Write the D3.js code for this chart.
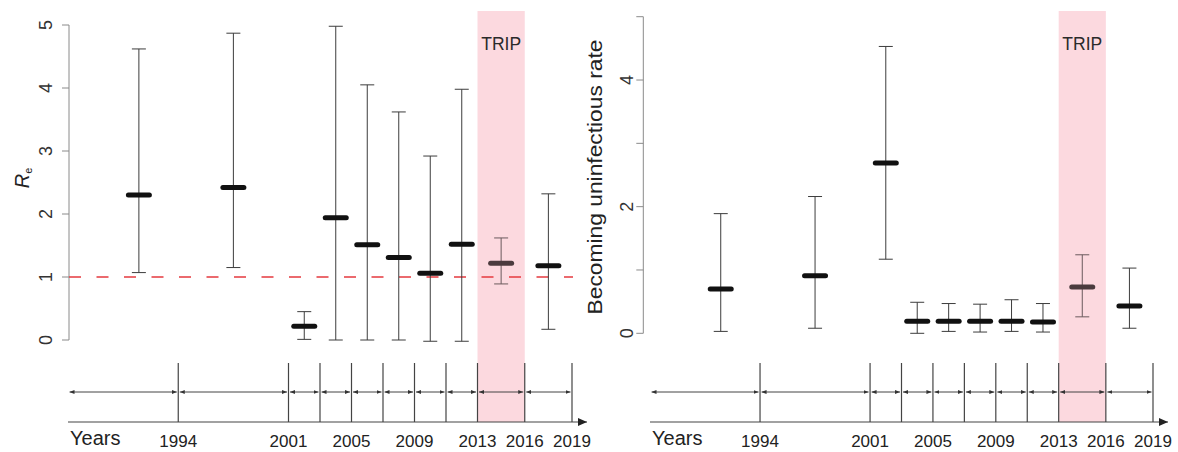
<!DOCTYPE html>
<html>
<head>
<meta charset="utf-8">
<script src="https://cdn.jsdelivr.net/npm/d3@7"></script>
<style>
  body { margin: 0; background: #fff; }
  svg text { font-family: "Liberation Sans", Arial, Helvetica, sans-serif; }
</style>
</head>
<body>
<div id="chart"></div>
<script>
// period midpoints where the estimates sit
var periodMid = [1991.5, 1997.5, 2002, 2004, 2006, 2008, 2010, 2012, 2014.5, 2017.5];
// left panel: effective reproduction number
var reMid = [2.30, 2.42, 0.22, 1.94, 1.51, 1.31, 1.06, 1.52, 1.22, 1.18];
var reLo  = [1.07, 1.15, 0.01, 0.00, 0.00, 0.00, -0.02, -0.02, 0.89, 0.17];
var reHi  = [4.62, 4.87, 0.45, 4.98, 4.05, 3.62, 2.92, 3.98, 1.62, 2.32];
// right panel: becoming uninfectious rate
var gMid = [0.70, 0.91, 2.69, 0.19, 0.19, 0.19, 0.19, 0.18, 0.73, 0.43];
var gLo  = [0.03, 0.08, 1.17, 0.00, 0.03, 0.02, 0.03, 0.02, 0.26, 0.08];
var gHi  = [1.89, 2.16, 4.53, 0.49, 0.47, 0.46, 0.53, 0.47, 1.24, 1.03];
// timeline
var boundaries = [1987, 1994, 2001, 2003, 2005, 2007, 2009, 2011, 2013, 2016, 2019];
var yearLabels = [1994, 2001, 2005, 2009, 2013, 2016, 2019];
var tripPeriod = [2013, 2016];
var tripIndex = 8;

var svg = d3.select('#chart')
  .append('svg')
  .attr('width', 1178)
  .attr('height', 452);

var defs = svg.append('defs');
defs.append('marker')
  .attr('id', 'ah')
  .attr('viewBox', '0 0 10 10')
  .attr('refX', 10)
  .attr('refY', 5)
  .attr('markerWidth', 5)
  .attr('markerHeight', 5)
  .attr('markerUnits', 'userSpaceOnUse')
  .attr('orient', 'auto-start-reverse')
  .append('path')
  .attr('d', 'M0,1 L10,5 L0,9 Z')
  .attr('fill', '#333');

function drawPanel(p) {
  var x = d3.scaleLinear().domain([1987, 2019]).range(p.xRange);
  var y = d3.scaleLinear().domain([0, 5]).range(p.yRange);
  var g = svg.append('g');

  // TRIP band
  g.append('rect')
    .attr('x', x(tripPeriod[0]))
    .attr('y', 11)
    .attr('width', x(tripPeriod[1]) - x(tripPeriod[0]))
    .attr('height', 422 - 11)
    .attr('fill', '#fcd9df');
  g.append('text')
    .attr('x', (x(tripPeriod[0]) + x(tripPeriod[1])) / 2)
    .attr('y', 50)
    .attr('text-anchor', 'middle')
    .style('font-size', '17.5px')
    .attr('fill', '#2a2a2a')
    .text('TRIP');

  // y axis, R style
  var ax = p.axisX;
  g.append('line')
    .attr('x1', ax).attr('x2', ax)
    .attr('y1', y(0)).attr('y2', y(5))
    .attr('stroke', '#8a8a8a');
  var ticks = d3.range(0, 6);
  g.selectAll('.tick').data(ticks).enter().append('line')
    .attr('x1', ax - 7).attr('x2', ax)
    .attr('y1', function(d) { return y(d); })
    .attr('y2', function(d) { return y(d); })
    .attr('stroke', '#8a8a8a');
  g.selectAll('.tlab').data(ticks.filter(p.labelFilter)).enter().append('text')
    .attr('transform', function(d) {
      return 'translate(' + (ax - p.labelOff) + ',' + y(d) + ') rotate(-90)';
    })
    .attr('text-anchor', 'middle')
    .attr('dy', '0.35em')
    .style('font-size', '18px')
    .attr('fill', '#333')
    .text(function(d) { return d; });

  if (p.refLine != null) {
    g.append('line')
      .attr('x1', ax).attr('x2', x(2019) + 1)
      .attr('y1', y(p.refLine)).attr('y2', y(p.refLine))
      .attr('stroke', '#e53a3f')
      .attr('stroke-width', 1.6)
      .attr('stroke-dasharray', '12,15.5');
  }

  // error bars
  var idx = d3.range(periodMid.length);
  var whiskerCol = '#3c3c3c';
  g.selectAll('.wk').data(idx).enter().append('line')
    .attr('x1', function(i) { return x(periodMid[i]); })
    .attr('x2', function(i) { return x(periodMid[i]); })
    .attr('y1', function(i) { return y(p.lo[i]); })
    .attr('y2', function(i) { return y(p.hi[i]); })
    .attr('stroke', function(i) { return i == tripIndex ? '#6a5a5d' : whiskerCol; });
  [p.lo, p.hi].forEach(function(arr) {
    g.selectAll(null).data(idx).enter().append('line')
      .attr('x1', function(i) { return x(periodMid[i]) - 7; })
      .attr('x2', function(i) { return x(periodMid[i]) + 7; })
      .attr('y1', function(i) { return y(arr[i]); })
      .attr('y2', function(i) { return y(arr[i]); })
      .attr('stroke', function(i) { return i == tripIndex ? '#6a5a5d' : whiskerCol; });
  });
  g.selectAll('.mid').data(idx).enter().append('line')
    .attr('x1', function(i) { return x(periodMid[i]) - 10.5; })
    .attr('x2', function(i) { return x(periodMid[i]) + 10.5; })
    .attr('y1', function(i) { return y(p.mid[i]); })
    .attr('y2', function(i) { return y(p.mid[i]); })
    .attr('stroke', function(i) { return i == tripIndex ? '#4b3b3e' : '#111'; })
    .attr('stroke-width', 5)
    .attr('stroke-linecap', 'round');

  // timeline
  var axisY = 422;
  g.append('line')
    .attr('x1', x(1987)).attr('x2', x(2019) + 15)
    .attr('y1', axisY).attr('y2', axisY)
    .attr('stroke', '#444')
    .attr('stroke-width', 1.2);
  g.append('path')
    .attr('d', 'M' + (x(2019) + 15) + ',' + axisY + ' l-9,-4 l0,8 Z')
    .attr('fill', '#222');
  g.selectAll('.vl').data(boundaries.slice(1)).enter().append('line')
    .attr('x1', function(d) { return x(d); })
    .attr('x2', function(d) { return x(d); })
    .attr('y1', 363).attr('y2', axisY)
    .attr('stroke', '#444')
    .attr('stroke-width', 1.2);
  g.selectAll('.arr').data(d3.range(boundaries.length - 1)).enter().append('line')
    .attr('x1', function(i) { return x(boundaries[i]) + 1.5; })
    .attr('x2', function(i) { return x(boundaries[i + 1]) - 1.5; })
    .attr('y1', 392).attr('y2', 392)
    .attr('stroke', '#444')
    .attr('marker-start', 'url(#ah)')
    .attr('marker-end', 'url(#ah)');
  g.selectAll('.yl').data(yearLabels).enter().append('text')
    .attr('x', function(d) { return x(d); })
    .attr('y', 447)
    .attr('text-anchor', 'middle')
    .style('font-size', '17px')
    .attr('fill', '#222')
    .text(function(d) { return d; });
  g.append('text')
    .attr('x', x(1987) + 2)
    .attr('y', 445)
    .style('font-size', '20px')
    .attr('fill', '#222')
    .text('Years');

  return g;
}

var left = drawPanel({
  xRange: [68, 572], yRange: [340, 25], axisX: 69, labelOff: 23,
  labelFilter: function() { return true; },
  mid: reMid, lo: reLo, hi: reHi, refLine: 1
});
left.append('text')
  .attr('transform', 'translate(29,178) rotate(-90)')
  .attr('text-anchor', 'middle')
  .style('font-size', '20px')
  .attr('fill', '#222')
  .call(function(t) {
    t.append('tspan').style('font-style', 'italic').text('R');
    t.append('tspan').style('font-size', '11px').attr('dy', 3).text('e');
  });

var right = drawPanel({
  xRange: [650, 1153], yRange: [333.3, 16.7], axisX: 643.3, labelOff: 17,
  labelFilter: function(d) { return d % 2 == 0 && d < 5; },
  mid: gMid, lo: gLo, hi: gHi, refLine: null
});
right.append('text')
  .attr('transform', 'translate(602,177) rotate(-90)')
  .attr('text-anchor', 'middle')
  .style('font-size', '20px')
  .attr('fill', '#222')
  .attr('textLength', 275)
  .attr('lengthAdjust', 'spacingAndGlyphs')
  .text('Becoming uninfectious rate');
</script>
</body>
</html>
